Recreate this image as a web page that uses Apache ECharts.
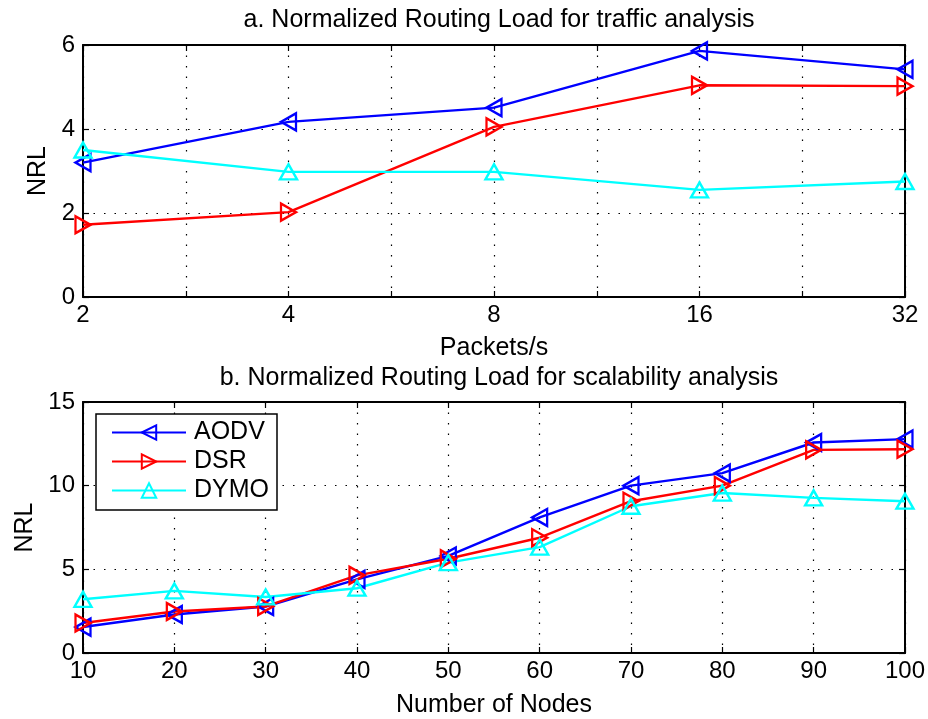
<!DOCTYPE html>
<html>
<head>
<meta charset="utf-8">
<script src="https://cdn.jsdelivr.net/npm/echarts@6/dist/echarts.min.js"></script>
<style>
  html, body { margin: 0; padding: 0; background: #fff; }
  #chart { width: 928px; height: 719px; }
</style>
</head>
<body>
<div id="chart"></div>
<script>
  // ---- data ----
  // (a) traffic analysis, x = packets/s (log2 spaced)
  const packets = [2, 4, 8, 16, 32];
  const aodvTraffic = [3.2, 4.17, 4.51, 5.86, 5.42];
  const dsrTraffic  = [1.72, 2.02, 4.05, 5.04, 5.02];
  const dymoTraffic = [3.5, 2.98, 2.98, 2.55, 2.75];

  // (b) scalability analysis, x = number of nodes
  const nodes = [10, 20, 30, 40, 50, 60, 70, 80, 90, 100];
  const aodvScale = [1.55, 2.3, 2.78, 4.4, 5.8, 8.1, 10.0, 10.75, 12.58, 12.78];
  const dsrScale  = [1.79, 2.48, 2.78, 4.64, 5.63, 6.89, 9.07, 10.0, 12.14, 12.18];
  const dymoScale = [3.21, 3.71, 3.35, 3.87, 5.4, 6.33, 8.77, 9.56, 9.27, 9.07];

  const COL_AODV = "#0000ff";
  const COL_DSR  = "#ff0000";
  const COL_DYMO = "#00ffff";

  const FONT = "Liberation Sans, Arial, Helvetica, sans-serif";
  const FS_TICK = 24;
  const FS_TEXT = 25;

  // Plot boxes (matlab subplot positions)
  const GRID_A = { left: 83, top: 45, width: 822, height: 252 };
  const GRID_B = { left: 83, top: 402, width: 822, height: 252 };

  const dotted = { color: "#000", width: 1.2, type: [1.5, 9] };
  const boxLine = { show: true, onZero: false, lineStyle: { color: "#000", width: 2 } };
  const inTick = { show: true, inside: true, length: 6, lineStyle: { color: "#000", width: 1.2 } };

  function mirrorAxis(base, position) {
    // box edge with inward ticks, no labels
    return Object.assign({}, base, {
      position,
      name: "",
      axisLabel: { show: false },
      splitLine: { show: false }
    });
  }

  const tickStyle = { color: "#000", fontFamily: FONT, fontSize: FS_TICK };
  const nameStyle = { color: "#000", fontFamily: FONT, fontSize: FS_TEXT };

  const xA = {
    gridIndex: 0,
    type: "value",
    min: 0,
    max: packets.length - 1,
    interval: 0.5,
    axisLine: boxLine,
    axisTick: inTick,
    axisLabel: Object.assign({}, tickStyle, {
      margin: 6,
      formatter: v => (Number.isInteger(v) ? String(packets[v]) : "")
    }),
    splitLine: { show: true, lineStyle: dotted },
    name: "Packets/s",
    nameLocation: "middle",
    nameGap: 39,
    nameTextStyle: nameStyle
  };

  const yA = {
    gridIndex: 0,
    type: "value",
    min: 0,
    max: 6,
    interval: 2,
    axisLine: boxLine,
    axisTick: inTick,
    axisLabel: Object.assign({}, tickStyle, { margin: 8 }),
    splitLine: { show: true, lineStyle: dotted },
    name: "NRL",
    nameLocation: "middle",
    nameGap: 32,
    nameTextStyle: nameStyle
  };

  const xB = {
    gridIndex: 1,
    type: "value",
    min: 10,
    max: 100,
    interval: 10,
    axisLine: boxLine,
    axisTick: inTick,
    axisLabel: Object.assign({}, tickStyle, { margin: 6 }),
    splitLine: { show: true, lineStyle: dotted },
    name: "Number of Nodes",
    nameLocation: "middle",
    nameGap: 40,
    nameTextStyle: nameStyle
  };

  const yB = {
    gridIndex: 1,
    type: "value",
    min: 0,
    max: 15,
    interval: 5,
    axisLine: boxLine,
    axisTick: inTick,
    axisLabel: Object.assign({}, tickStyle, { margin: 8 }),
    splitLine: { show: true, lineStyle: dotted },
    name: "NRL",
    nameLocation: "middle",
    nameGap: 45,
    nameTextStyle: nameStyle
  };

  function lineSeries(name, color, rotate, xs, ys, axisIdx) {
    return {
      name,
      type: "line",
      xAxisIndex: axisIdx,
      yAxisIndex: axisIdx,
      data: ys.map((v, i) => [xs[i], v]),
      symbol: "triangle",
      symbolRotate: rotate,
      symbolSize: [17, 15],
      showSymbol: true,
      animation: false,
      lineStyle: { color, width: 2.4 },
      itemStyle: { color: "rgba(0,0,0,0)", borderColor: color, borderWidth: 2.4 },
      emphasis: { disabled: true },
      z: 3
    };
  }

  const packetIdx = packets.map((_, i) => i);

  const titleStyle = { color: "#000", fontFamily: FONT, fontSize: FS_TEXT, fontWeight: "normal" };

  const option = {
    animation: false,
    backgroundColor: "#fff",
    title: [
      {
        text: "a. Normalized Routing Load for traffic analysis",
        left: 494, top: 3, textAlign: "center",
        textStyle: titleStyle
      },
      {
        text: "b. Normalized Routing Load for scalability analysis",
        left: 494, top: 361, textAlign: "center",
        textStyle: titleStyle
      }
    ],
    legend: {
      data: ["AODV", "DSR", "DYMO"],
      orient: "vertical",
      left: 96,
      top: 414,
      padding: [6, 8, 7, 15],
      itemWidth: 74,
      itemHeight: 18,
      itemGap: 4,
      backgroundColor: "#fff",
      borderColor: "#000",
      borderWidth: 1.5,
      borderRadius: 0,
      selectedMode: false,
      textStyle: { color: "#000", fontFamily: FONT, fontSize: FS_TEXT, padding: [0, 0, 0, 3] }
    },
    grid: [
      Object.assign({}, GRID_A, { containLabel: false }),
      Object.assign({}, GRID_B, { containLabel: false })
    ],
    xAxis: [xA, mirrorAxis(xA, "top"), xB, mirrorAxis(xB, "top")],
    yAxis: [yA, mirrorAxis(yA, "right"), yB, mirrorAxis(yB, "right")],
    series: [
      lineSeries("AODV", COL_AODV, 90, packetIdx, aodvTraffic, 0),
      lineSeries("DSR", COL_DSR, -90, packetIdx, dsrTraffic, 0),
      lineSeries("DYMO", COL_DYMO, 0, packetIdx, dymoTraffic, 0),
      lineSeries("AODV", COL_AODV, 90, nodes, aodvScale, 2),
      lineSeries("DSR", COL_DSR, -90, nodes, dsrScale, 2),
      lineSeries("DYMO", COL_DYMO, 0, nodes, dymoScale, 2)
    ]
  };

  const chart = echarts.init(document.getElementById("chart"), null, { renderer: "canvas" });
  chart.setOption(option);
</script>
</body>
</html>
